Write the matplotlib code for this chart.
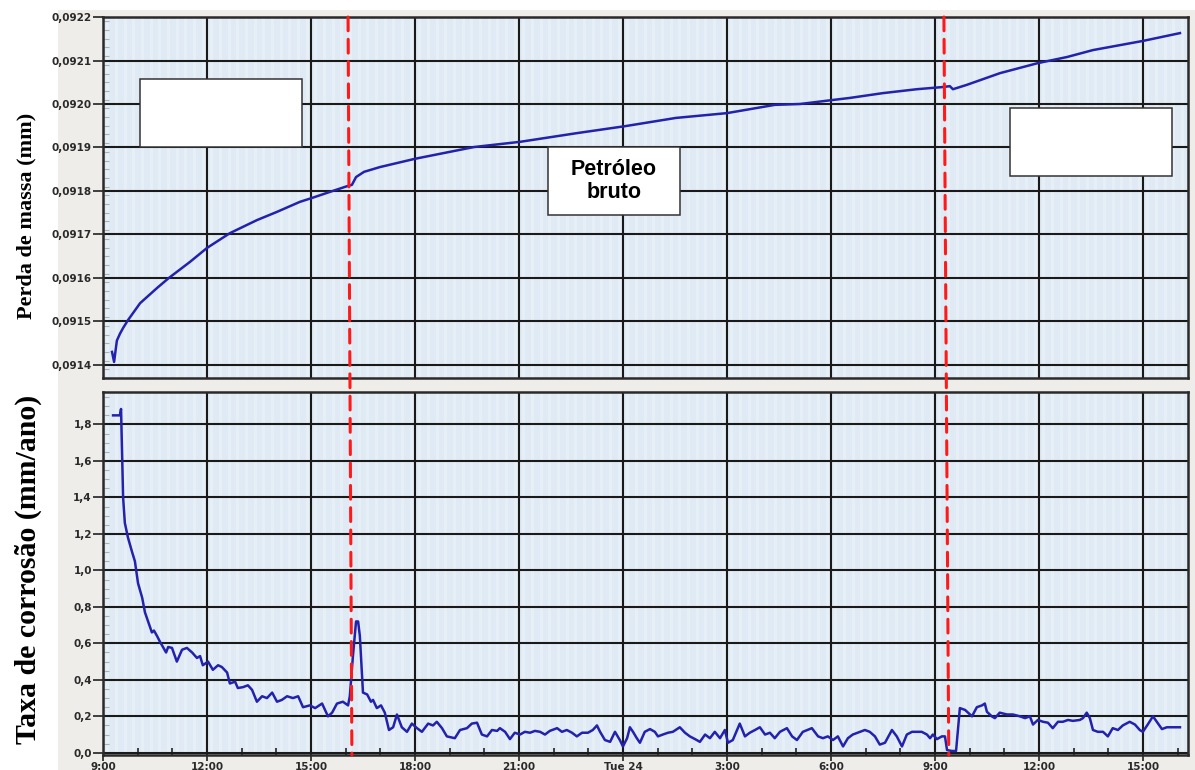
import numpy as np
import matplotlib
matplotlib.use("Agg")
import matplotlib.pyplot as plt
from matplotlib.patches import Rectangle, ConnectionPatch

# horas decorridas desde 9:00 do dia 23
t_massa = [0.26, 0.32, 0.40, 0.49, 0.58, 0.72, 1.07, 1.56, 1.90, 2.51, 3.00, 3.66,
           4.44, 5.02, 5.68, 6.03, 6.55, 7.04, 7.18, 7.30, 7.53, 7.99, 9.00, 10.70,
           12.03, 13.67, 15.06, 16.53, 18.00, 19.38, 20.11, 21.03, 21.55, 22.50,
           23.48, 24.23, 24.43, 24.52, 24.92, 25.88, 26.97, 27.81, 28.56, 30.00,
           31.07]
massa = [0.091430, 0.091407, 0.091456, 0.091472, 0.091485, 0.091503, 0.091542,
         0.091577, 0.091600, 0.091637, 0.091669, 0.091703, 0.091733, 0.091752,
         0.091775, 0.091784, 0.091798, 0.091811, 0.091814, 0.091832, 0.091844,
         0.091855, 0.091874, 0.091901, 0.091913, 0.091933, 0.091949, 0.091968,
         0.091979, 0.091998, 0.092000, 0.092009, 0.092014, 0.092025, 0.092034,
         0.092039, 0.092041, 0.092034, 0.092044, 0.092071, 0.092094, 0.092108,
         0.092124, 0.092145, 0.092163]

t_taxa = [0.29, 0.49, 0.52, 0.58, 0.63, 0.72, 0.84, 0.92, 1.01, 1.13, 1.21, 1.30,
          1.41, 1.47, 1.56, 1.64, 1.73, 1.82, 1.88, 1.99, 2.13, 2.28, 2.42, 2.57,
          2.71, 2.80, 2.88, 3.03, 3.17, 3.32, 3.43, 3.58, 3.66, 3.81, 3.89, 4.04,
          4.18, 4.30, 4.44, 4.59, 4.73, 4.88, 5.02, 5.16, 5.31, 5.48, 5.63, 5.77,
          5.97, 6.12, 6.32, 6.49, 6.61, 6.75, 6.92, 7.07, 7.12, 7.21, 7.30, 7.36,
          7.41, 7.50, 7.62, 7.73, 7.79, 7.90, 8.02, 8.13, 8.25, 8.37, 8.48, 8.62,
          8.77, 8.91, 9.06, 9.20, 9.38, 9.52, 9.63, 9.78, 9.92, 10.15, 10.30,
          10.50, 10.64, 10.79, 10.93, 11.08, 11.22, 11.37, 11.45, 11.60, 11.74,
          11.88, 12.03, 12.17, 12.32, 12.46, 12.61, 12.75, 12.89, 13.10, 13.24,
          13.38, 13.53, 13.67, 13.82, 13.99, 14.13, 14.25, 14.34, 14.48, 14.63,
          14.77, 14.91, 15.00, 15.12, 15.20, 15.29, 15.40, 15.49, 15.63, 15.78,
          15.92, 16.01, 16.15, 16.30, 16.44, 16.64, 16.79, 16.93, 17.08, 17.22,
          17.37, 17.51, 17.65, 17.80, 17.94, 18.03, 18.17, 18.37, 18.52, 18.66,
          18.81, 18.95, 19.10, 19.24, 19.38, 19.53, 19.73, 19.88, 20.02, 20.19,
          20.45, 20.63, 20.77, 20.91, 21.06, 21.20, 21.35, 21.49, 21.63, 21.84,
          21.98, 22.12, 22.27, 22.41, 22.56, 22.76, 22.90, 23.05, 23.19, 23.34,
          23.48, 23.62, 23.77, 23.86, 23.94, 24.06, 24.20, 24.29, 24.35, 24.49,
          24.61, 24.72, 24.87, 25.07, 25.21, 25.36, 25.44, 25.50, 25.64, 25.73,
          25.87, 26.08, 26.25, 26.45, 26.60, 26.74, 26.83, 26.97, 27.12, 27.26,
          27.40, 27.55, 27.69, 27.84, 27.98, 28.18, 28.27, 28.38, 28.47, 28.56,
          28.70, 28.85, 28.99, 29.13, 29.28, 29.42, 29.62, 29.77, 29.91, 30.00,
          30.14, 30.29, 30.40, 30.55, 30.69, 30.84, 31.07]
taxa = [1.85, 1.85, 1.885, 1.40, 1.26, 1.18, 1.10, 1.05, 0.93, 0.85, 0.77, 0.72,
        0.66, 0.67, 0.64, 0.61, 0.58, 0.55, 0.58, 0.575, 0.50, 0.565, 0.575, 0.55,
        0.52, 0.53, 0.48, 0.50, 0.455, 0.48, 0.47, 0.44, 0.38, 0.39, 0.355, 0.36,
        0.37, 0.345, 0.28, 0.31, 0.30, 0.33, 0.28, 0.29, 0.31, 0.30, 0.31, 0.25,
        0.26, 0.245, 0.27, 0.20, 0.22, 0.27, 0.28, 0.26, 0.31, 0.53, 0.72, 0.72,
        0.64, 0.33, 0.32, 0.28, 0.29, 0.245, 0.26, 0.22, 0.125, 0.14, 0.21, 0.14,
        0.115, 0.16, 0.135, 0.115, 0.16, 0.15, 0.17, 0.135, 0.09, 0.08, 0.125,
        0.135, 0.16, 0.165, 0.10, 0.09, 0.125, 0.12, 0.135, 0.115, 0.075,
        0.11, 0.10, 0.115, 0.11, 0.12, 0.115, 0.10, 0.12, 0.135, 0.115,
        0.125, 0.11, 0.09, 0.11, 0.11, 0.125, 0.15, 0.115, 0.07, 0.06,
        0.115, 0.07, 0.035, 0.08, 0.14, 0.115, 0.08, 0.055, 0.115, 0.13,
        0.115, 0.09, 0.10, 0.11, 0.115, 0.14, 0.11, 0.09, 0.075, 0.06,
        0.10, 0.08, 0.115, 0.08, 0.125, 0.055, 0.07, 0.16, 0.09, 0.11,
        0.125, 0.14, 0.10, 0.11, 0.08, 0.115, 0.135, 0.09, 0.07, 0.115,
        0.135, 0.09, 0.08, 0.09, 0.07, 0.09, 0.035, 0.08, 0.10, 0.115,
        0.125, 0.115, 0.09, 0.045, 0.055, 0.125, 0.09, 0.035, 0.10, 0.115,
        0.115, 0.115, 0.10, 0.08, 0.10, 0.075, 0.09, 0.09, 0.015, 0.01,
        0.01, 0.245, 0.235, 0.20, 0.25, 0.26, 0.27, 0.225, 0.20, 0.19,
        0.22, 0.21, 0.21, 0.20, 0.19, 0.20, 0.155, 0.18, 0.17, 0.165,
        0.135, 0.17, 0.17, 0.18, 0.175, 0.18, 0.19, 0.22, 0.19, 0.125,
        0.115, 0.115, 0.09, 0.135, 0.125, 0.15, 0.17, 0.155, 0.125, 0.115,
        0.155, 0.20, 0.17, 0.13, 0.14, 0.14, 0.14]

x_ticks = [0, 3, 6, 9, 12, 15, 18, 21, 24, 27, 30]
x_labels = ["9:00", "12:00", "15:00", "18:00", "21:00", "Tue 24",
            "3:00", "6:00", "9:00", "12:00", "15:00"]
y1_ticks = [0.0914, 0.0915, 0.0916, 0.0917, 0.0918, 0.0919, 0.0920, 0.0921, 0.0922]
y1_labels = ["0,0914", "0,0915", "0,0916", "0,0917", "0,0918",
             "0,0919", "0,0920", "0,0921", "0,0922"]
y2_ticks = [0.0, 0.2, 0.4, 0.6, 0.8, 1.0, 1.2, 1.4, 1.6, 1.8]
y2_labels = ["0,0", "0,2", "0,4", "0,6", "0,8", "1,0", "1,2", "1,4", "1,6", "1,8"]

# trocas de fluido (topo, base)
troca1 = (7.07, 7.18)
troca2 = (24.26, 24.40)

azul = "#2222ad"
fundo = "#dfeaf4"

fig = plt.figure(figsize=(11.95, 7.7), dpi=100)
fig.patch.set_facecolor("white")
fig.patches.append(Rectangle((0.0485, 0), 0.9515, 0.987, transform=fig.transFigure,
                             facecolor="#efedea", edgecolor="none", zorder=-5))

ax1 = fig.add_axes([0.0862, 0.5091, 0.9079, 0.4688])
ax2 = fig.add_axes([0.0862, 0.0195, 0.9079, 0.4714])

for ax in (ax1, ax2):
    ax.set_facecolor(fundo)
    ax.set_xlim(0, 31.3)
    for s in np.arange(0.125, 31.3, 0.25):
        ax.axvline(s, color="white", lw=2.2, alpha=0.25, zorder=0)
    ax.set_xticks(x_ticks)
    ax.set_xticks(np.arange(1, 31.3, 1), minor=True)
    ax.grid(True, which="major", color="#1a1a1a", lw=1.5, zorder=1)
    for sp in ax.spines.values():
        sp.set_color("#2a2a2a")
        sp.set_linewidth(1.8)
    ax.tick_params(axis="y", which="major", length=7, width=1.2, color="#222",
                   labelsize=7.5, labelcolor="#2a2a2a", pad=1)
    ax.tick_params(axis="y", which="minor", direction="in", length=4, width=0.8,
                   color="#b0b0b0")
    ax.set_axisbelow(True)

ax1.plot(t_massa, massa, color=azul, lw=1.8, zorder=3)
ax1.set_ylim(0.091370, 0.0922)
ax1.set_yticks(y1_ticks)
ax1.set_yticklabels(y1_labels, fontweight="bold")
ax1.set_yticks(np.arange(0.09137, 0.0922, 0.00002), minor=True)
ax1.tick_params(axis="x", which="both", length=0, labelbottom=False)

ax2.plot(t_taxa, taxa, color=azul, lw=1.8, zorder=3)
ax2.set_ylim(-0.012, 1.978)
ax2.set_yticks(y2_ticks)
ax2.set_yticklabels(y2_labels, fontweight="bold")
ax2.set_yticks(np.arange(0.05, 1.97, 0.05), minor=True)
ax2.set_xticklabels(x_labels, fontweight="bold")
ax2.tick_params(axis="x", which="major", length=4, width=1.2, color="#222",
                labelsize=7.5, labelcolor="#2a2a2a", pad=1)
ax2.tick_params(axis="x", which="minor", direction="in", length=5, width=1.2,
                color="#222")

# linhas tracejadas das trocas, atravessando os dois graficos
for xa, xb in (troca1, troca2):
    con = ConnectionPatch(xyA=(xa, 0.0922), coordsA=ax1.transData,
                          xyB=(xb, -0.012), coordsB=ax2.transData,
                          color="#ff1a1a", lw=2.2, linestyle=(0, (4.5, 2.8)),
                          zorder=5)
    fig.add_artist(con)

fig.text(0.022, 0.72, "Perda de massa (mm)", rotation=90, ha="center", va="center",
         family="Liberation Serif", fontweight="bold", fontsize=16)
fig.text(0.024, 0.26, "Taxa de corrosão (mm/ano)", rotation=90, ha="center",
         va="center", family="Liberation Serif", fontweight="bold", fontsize=21.5)

# caixas de legenda
caixas = [(0.034, 0.640, 0.149, 0.188), (0.836, 0.560, 0.149, 0.188),
          (0.410, 0.452, 0.122, 0.188)]
for x0, y0, w, h in caixas:
    ax1.add_patch(Rectangle((x0, y0), w, h, transform=ax1.transAxes,
                            facecolor="white", edgecolor="#333", lw=1.1, zorder=6))
ax1.text(0.471, 0.546, "Petróleo\nbruto", transform=ax1.transAxes, ha="center",
         va="center", family="Liberation Sans", fontweight="bold", fontsize=15.5,
         linespacing=1.15, zorder=7)

fig.savefig("out.png", dpi=100)
